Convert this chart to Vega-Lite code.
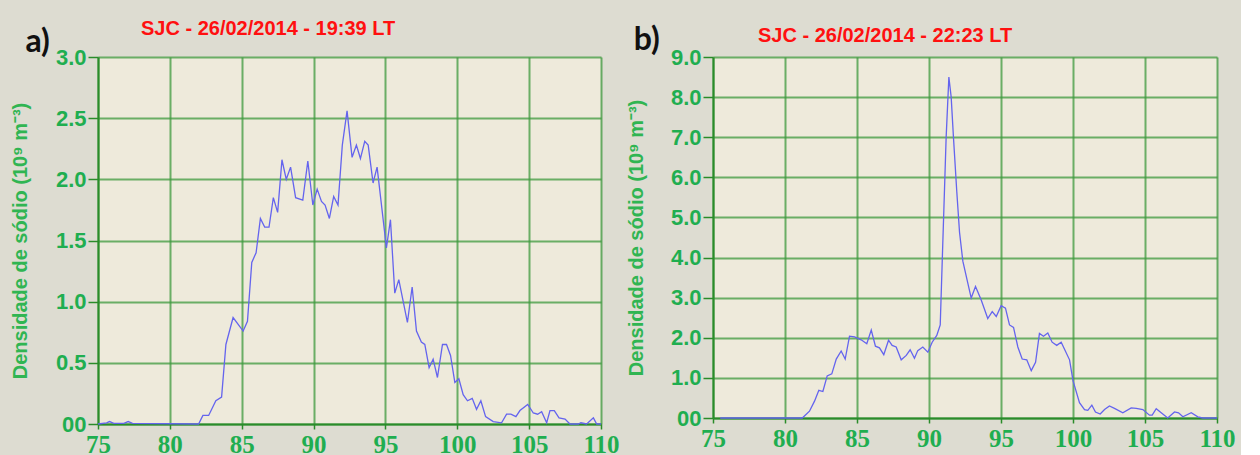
{
  "$schema": "https://vega.github.io/schema/vega-lite/v6.json",
  "background": "#dddcd1",
  "padding": {"left": 10, "top": 19, "right": 5, "bottom": 0},
  "spacing": 6,
  "datasets": {
    "a": [
      {"x": 75.0, "y": 0}, {"x": 75.6, "y": 0.01}, {"x": 75.8, "y": 0.02}, {"x": 76.1, "y": 0.005}, {"x": 76.8, "y": 0.005}, {"x": 77.1, "y": 0.02}, {"x": 77.4, "y": 0.005}, {"x": 82.0, "y": 0.0}, {"x": 82.3, "y": 0.07}, {"x": 82.7, "y": 0.07}, {"x": 83.2, "y": 0.19}, {"x": 83.6, "y": 0.22}, {"x": 83.9, "y": 0.65}, {"x": 84.4, "y": 0.87}, {"x": 85.1, "y": 0.76}, {"x": 85.4, "y": 0.84}, {"x": 85.7, "y": 1.32}, {"x": 86.0, "y": 1.40}, {"x": 86.3, "y": 1.68}, {"x": 86.6, "y": 1.61}, {"x": 86.9, "y": 1.61}, {"x": 87.2, "y": 1.85}, {"x": 87.5, "y": 1.73}, {"x": 87.8, "y": 2.16}, {"x": 88.1, "y": 2.0}, {"x": 88.4, "y": 2.10}, {"x": 88.75, "y": 1.85}, {"x": 89.25, "y": 1.83}, {"x": 89.6, "y": 2.15}, {"x": 89.95, "y": 1.79}, {"x": 90.25, "y": 1.92}, {"x": 90.55, "y": 1.82}, {"x": 90.8, "y": 1.79}, {"x": 91.1, "y": 1.68}, {"x": 91.4, "y": 1.86}, {"x": 91.7, "y": 1.79}, {"x": 92.0, "y": 2.28}, {"x": 92.33, "y": 2.56}, {"x": 92.68, "y": 2.18}, {"x": 92.98, "y": 2.28}, {"x": 93.26, "y": 2.17}, {"x": 93.56, "y": 2.31}, {"x": 93.8, "y": 2.28}, {"x": 94.14, "y": 1.97}, {"x": 94.42, "y": 2.10}, {"x": 95.07, "y": 1.44}, {"x": 95.35, "y": 1.67}, {"x": 95.65, "y": 1.07}, {"x": 95.93, "y": 1.18}, {"x": 96.53, "y": 0.83}, {"x": 96.86, "y": 1.12}, {"x": 97.16, "y": 0.76}, {"x": 97.5, "y": 0.67}, {"x": 97.74, "y": 0.65}, {"x": 98.04, "y": 0.46}, {"x": 98.32, "y": 0.53}, {"x": 98.62, "y": 0.38}, {"x": 98.97, "y": 0.65}, {"x": 99.25, "y": 0.65}, {"x": 99.53, "y": 0.56}, {"x": 99.83, "y": 0.34}, {"x": 100.11, "y": 0.37}, {"x": 100.41, "y": 0.24}, {"x": 100.71, "y": 0.19}, {"x": 101.04, "y": 0.21}, {"x": 101.34, "y": 0.12}, {"x": 101.64, "y": 0.19}, {"x": 101.97, "y": 0.06}, {"x": 102.5, "y": 0.02}, {"x": 103.08, "y": 0.01}, {"x": 103.43, "y": 0.08}, {"x": 103.73, "y": 0.08}, {"x": 104.08, "y": 0.06}, {"x": 104.36, "y": 0.11}, {"x": 104.9, "y": 0.16}, {"x": 105.29, "y": 0.09}, {"x": 105.59, "y": 0.08}, {"x": 105.87, "y": 0.10}, {"x": 106.22, "y": 0.01}, {"x": 106.45, "y": 0.11}, {"x": 106.75, "y": 0.11}, {"x": 107.08, "y": 0.05}, {"x": 107.5, "y": 0.04}, {"x": 107.84, "y": 0.0}, {"x": 108.43, "y": 0.0}, {"x": 108.6, "y": 0.01}, {"x": 109.0, "y": 0.0}, {"x": 109.47, "y": 0.05}, {"x": 109.7, "y": 0.0}, {"x": 110.0, "y": 0.0}
    ],
    "b": [
      {"x": 75.5, "y": 0}, {"x": 81.2, "y": 0}, {"x": 81.7, "y": 0.17}, {"x": 82.05, "y": 0.42}, {"x": 82.35, "y": 0.69}, {"x": 82.63, "y": 0.66}, {"x": 82.93, "y": 1.05}, {"x": 83.25, "y": 1.10}, {"x": 83.56, "y": 1.47}, {"x": 83.9, "y": 1.67}, {"x": 84.18, "y": 1.47}, {"x": 84.48, "y": 2.04}, {"x": 84.83, "y": 2.02}, {"x": 85.29, "y": 1.95}, {"x": 85.68, "y": 1.85}, {"x": 85.99, "y": 2.19}, {"x": 86.28, "y": 1.79}, {"x": 86.56, "y": 1.75}, {"x": 86.86, "y": 1.58}, {"x": 87.19, "y": 1.94}, {"x": 87.44, "y": 1.81}, {"x": 87.72, "y": 1.77}, {"x": 88.07, "y": 1.45}, {"x": 88.42, "y": 1.56}, {"x": 88.69, "y": 1.70}, {"x": 88.99, "y": 1.49}, {"x": 89.22, "y": 1.68}, {"x": 89.57, "y": 1.77}, {"x": 89.92, "y": 1.64}, {"x": 90.22, "y": 1.89}, {"x": 90.54, "y": 2.06}, {"x": 90.78, "y": 2.32}, {"x": 90.96, "y": 4.38}, {"x": 91.19, "y": 6.99}, {"x": 91.38, "y": 8.5}, {"x": 91.54, "y": 8.0}, {"x": 91.7, "y": 6.99}, {"x": 91.93, "y": 5.64}, {"x": 92.12, "y": 4.63}, {"x": 92.35, "y": 3.91}, {"x": 92.93, "y": 2.99}, {"x": 93.23, "y": 3.28}, {"x": 93.62, "y": 2.95}, {"x": 94.08, "y": 2.48}, {"x": 94.39, "y": 2.65}, {"x": 94.67, "y": 2.53}, {"x": 95.01, "y": 2.80}, {"x": 95.31, "y": 2.74}, {"x": 95.59, "y": 2.32}, {"x": 95.87, "y": 2.26}, {"x": 96.17, "y": 1.77}, {"x": 96.47, "y": 1.47}, {"x": 96.79, "y": 1.45}, {"x": 97.1, "y": 1.18}, {"x": 97.4, "y": 1.39}, {"x": 97.67, "y": 2.11}, {"x": 97.95, "y": 2.04}, {"x": 98.25, "y": 2.12}, {"x": 98.55, "y": 1.89}, {"x": 98.87, "y": 1.81}, {"x": 99.18, "y": 1.89}, {"x": 99.76, "y": 1.45}, {"x": 100.0, "y": 0.93}, {"x": 100.45, "y": 0.38}, {"x": 100.8, "y": 0.21}, {"x": 101.03, "y": 0.19}, {"x": 101.31, "y": 0.32}, {"x": 101.56, "y": 0.15}, {"x": 101.89, "y": 0.10}, {"x": 102.19, "y": 0.21}, {"x": 102.53, "y": 0.30}, {"x": 102.88, "y": 0.24}, {"x": 103.46, "y": 0.13}, {"x": 104.04, "y": 0.25}, {"x": 104.39, "y": 0.24}, {"x": 104.85, "y": 0.21}, {"x": 105.31, "y": 0.07}, {"x": 105.5, "y": 0.07}, {"x": 105.78, "y": 0.23}, {"x": 106.19, "y": 0.11}, {"x": 106.58, "y": 0.0}, {"x": 107.05, "y": 0.15}, {"x": 107.33, "y": 0.13}, {"x": 107.63, "y": 0.03}, {"x": 108.21, "y": 0.13}, {"x": 108.67, "y": 0.03}, {"x": 109.0, "y": 0.0}, {"x": 110.0, "y": 0.0}
    ],
    "la": [{"label": "a)", "x": 70.8, "y": 3.12}],
    "lb": [{"label": "b)", "x": 70.4, "y": 9.43}]
  },
  "config": {
    "view": {"stroke": null, "fill": "#eeeadb"},
    "title": {"font": "Liberation Sans", "fontSize": 20, "fontWeight": "bold", "color": "#ff1010", "anchor": "start", "frame": "group"},
    "axis": {
      "domainColor": "#2a8c2a", "domainWidth": 2,
      "tickColor": "#2a8c2a", "tickWidth": 1.5,
      "gridColor": "#3d9a3d", "gridWidth": 2,
      "labelFont": "Liberation Sans", "labelFontWeight": "bold", "labelColor": "#1fae50",
      "labelOverlap": false, "labelFlush": false,
      "titleFont": "Liberation Sans", "titleFontWeight": "bold", "titleColor": "#30b552", "titleFontSize": 20
    }
  },
  "hconcat": [
    {
      "width": 503, "height": 367,
      "title": {"text": "SJC - 26/02/2014 - 19:39 LT", "dx": 43, "offset": -13},
      "layer": [
        {
          "data": {"name": "a"},
          "mark": {"type": "line", "color": "#6464ee", "strokeWidth": 1.3},
          "encoding": {
            "x": {"field": "x", "type": "quantitative", "scale": {"domain": [75, 110], "nice": false, "zero": false},
              "axis": {"title": null, "values": [75, 77.5, 80, 82.5, 85, 87.5, 90, 92.5, 95, 97.5, 100, 102.5, 105, 107.5, 110],
                "labelExpr": "datum.value % 5 == 0 ? format(datum.value, 'd') : ''", "labelOverlap": false,
                "labelFont": "Liberation Sans Narrow", "labelPadding": 3, "tickSize": 5,
                "labelFontSize": {"condition": {"test": "datum.value % 5 == 0", "value": 25}, "value": 0},
                "gridOpacity": {"condition": {"test": "datum.value % 5 == 0", "value": 0.75}, "value": 0}}},
            "y": {"field": "y", "type": "quantitative", "scale": {"domain": [0, 3], "nice": false},
              "axis": {"title": "Densidade de sódio (10⁹ m⁻³)", "titlePadding": 25, "labelOverlap": false,
                "values": [0, 0.25, 0.5, 0.75, 1, 1.25, 1.5, 1.75, 2, 2.25, 2.5, 2.75, 3],
                "labelExpr": "datum.value == 0 ? '00' : (datum.value * 2) % 1 == 0 ? format(datum.value, '.1f') : ''",
                "labelFontSize": {"condition": {"test": "(datum.value * 2) % 1 == 0", "value": 22}, "value": 0},
                "labelPadding": 2,
                "tickSize": {"condition": {"test": "(datum.value * 2) % 1 == 0", "value": 10}, "value": 4},
                "gridOpacity": {"condition": {"test": "(datum.value * 2) % 1 == 0", "value": 0.75}, "value": 0}}}
          }
        },
        {
          "data": {"name": "la"},
          "mark": {"type": "text", "font": "Lato", "fontWeight": "bold", "fontSize": 32, "color": "#111111", "align": "center", "baseline": "middle"},
          "encoding": {
            "x": {"field": "x", "type": "quantitative"},
            "y": {"field": "y", "type": "quantitative"},
            "text": {"field": "label"}
          }
        }
      ]
    },
    {
      "width": 504, "height": 361,
      "title": {"text": "SJC - 26/02/2014 - 22:23 LT", "dx": 45, "offset": -22},
      "layer": [
        {
          "data": {"name": "b"},
          "mark": {"type": "line", "color": "#6464ee", "strokeWidth": 1.3},
          "encoding": {
            "x": {"field": "x", "type": "quantitative", "scale": {"domain": [75, 110], "nice": false, "zero": false},
              "axis": {"title": null, "values": [75, 77.5, 80, 82.5, 85, 87.5, 90, 92.5, 95, 97.5, 100, 102.5, 105, 107.5, 110],
                "labelExpr": "datum.value % 5 == 0 ? format(datum.value, 'd') : ''", "labelOverlap": false,
                "labelFont": "Liberation Sans Narrow", "labelPadding": 3, "tickSize": 5,
                "labelFontSize": {"condition": {"test": "datum.value % 5 == 0", "value": 25}, "value": 0},
                "gridOpacity": {"condition": {"test": "datum.value % 5 == 0", "value": 0.75}, "value": 0}}},
            "y": {"field": "y", "type": "quantitative", "scale": {"domain": [0, 9], "nice": false},
              "axis": {"title": "Densidade de sódio (10⁹ m⁻³)", "titlePadding": 24, "labelOverlap": false,
                "values": [0, 0.5, 1, 1.5, 2, 2.5, 3, 3.5, 4, 4.5, 5, 5.5, 6, 6.5, 7, 7.5, 8, 8.5, 9],
                "labelExpr": "datum.value == 0 ? '00' : datum.value % 1 == 0 ? format(datum.value, '.1f') : ''",
                "labelFontSize": {"condition": {"test": "datum.value % 1 == 0", "value": 22}, "value": 0},
                "labelPadding": 2,
                "tickSize": {"condition": {"test": "datum.value % 1 == 0", "value": 10}, "value": 4},
                "gridOpacity": {"condition": {"test": "datum.value % 1 == 0", "value": 0.75}, "value": 0}}}
          }
        },
        {
          "data": {"name": "lb"},
          "mark": {"type": "text", "font": "Lato", "fontWeight": "bold", "fontSize": 32, "color": "#111111", "align": "center", "baseline": "middle"},
          "encoding": {
            "x": {"field": "x", "type": "quantitative"},
            "y": {"field": "y", "type": "quantitative"},
            "text": {"field": "label"}
          }
        }
      ]
    }
  ]
}
